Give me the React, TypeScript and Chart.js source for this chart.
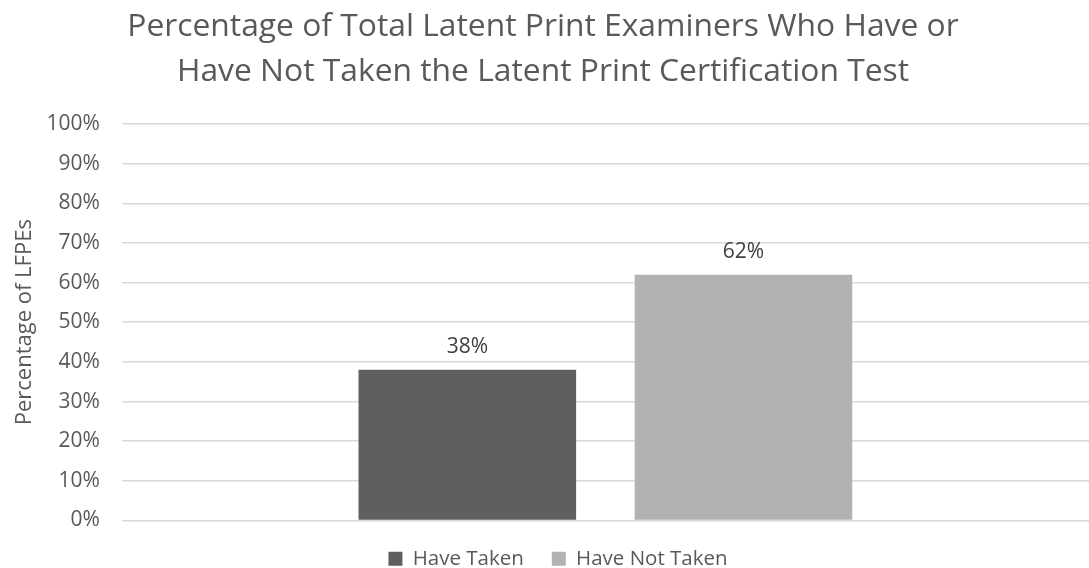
import React, { useEffect, useRef } from "react";
import { Chart, registerables } from "chart.js";

Chart.register(...registerables);

const categories = [""];
const seriesNames = ["Have Taken", "Have Not Taken"];
const haveTaken = [38];
const haveNotTaken = [62];
const titleLines = [
  "Percentage of Total Latent Print Examiners Who Have or",
  "Have Not Taken the Latent Print Certification Test",
];
const yAxisTitle = "Percentage of LFPEs";
const colors = ["#5f5f5f", "#b2b2b2"];

const FONT = "'Open Sans', 'Noto Sans', sans-serif";

const barLabels = {
  id: "barLabels",
  afterDatasetsDraw(chart: any) {
    const ctx = chart.ctx;
    ctx.save();
    ctx.font = `21px ${FONT}`;
    ctx.fillStyle = "#404040";
    ctx.textAlign = "center";
    ctx.textBaseline = "alphabetic";
    chart.data.datasets.forEach((ds: any, i: number) => {
      const meta = chart.getDatasetMeta(i);
      meta.data.forEach((bar: any, j: number) => {
        ctx.fillText(`${ds.data[j]}%`, bar.x, bar.y - 17);
      });
    });
    ctx.restore();
  },
};

const blockShift = {
  id: "blockShift",
  afterLayout(chart: any) {
    const lg = chart.legend;
    if (lg) {
      lg.left += 5;
      lg.right += 5;
    }
    const tb = chart.titleBlock;
    if (tb) {
      tb.left -= 10;
      tb.right -= 10;
    }
  },
};

export default function App() {
  const ref = useRef<HTMLCanvasElement>(null);
  useEffect(() => {
    document.body.style.margin = "0";
    const chart = new Chart(ref.current!, {
      type: "bar",
      data: {
        labels: categories,
        datasets: [
          { label: seriesNames[0], data: haveTaken, backgroundColor: colors[0] },
          { label: seriesNames[1], data: haveNotTaken, backgroundColor: colors[1] },
        ],
      },
      options: {
        animation: false,
        responsive: true,
        maintainAspectRatio: false,
        layout: { padding: { left: 12, right: -5, top: 0, bottom: -11 } },
        datasets: { bar: { categoryPercentage: 0.571, barPercentage: 0.788 } },
        scales: {
          x: {
            display: false,
          },
          y: {
            min: 0,
            max: 100,
            ticks: {
              stepSize: 10,
              color: "#595959",
              font: { family: FONT, size: 21 },
              padding: 22,
              callback: (v: any) => `${v}%`,
            },
            grid: { color: "#d9d9d9", lineWidth: 1.5, drawTicks: false },
            border: { display: false },
            title: {
              display: true,
              text: yAxisTitle,
              color: "#595959",
              font: { family: FONT, size: 22 },
              padding: { top: 0, bottom: -14 },
            },
          },
        },
        plugins: {
          title: {
            display: true,
            text: titleLines,
            color: "#595959",
            font: { family: FONT, size: 31.8, weight: "normal", lineHeight: 1.43 },
            padding: { top: 4, bottom: 29 },
          },
          legend: {
            position: "bottom",
            labels: {
              boxWidth: 14,
              boxHeight: 14,
              color: "#595959",
              font: { family: FONT, size: 20.5 },
              padding: 28,
            },
          },
          tooltip: { enabled: false },
        },
      },
      plugins: [barLabels, blockShift],
    });
    return () => chart.destroy();
  }, []);
  return (
    <div style={{ width: "1089px", height: "568px", position: "relative", background: "#fff" }}>
      <canvas ref={ref} />
    </div>
  );
}
